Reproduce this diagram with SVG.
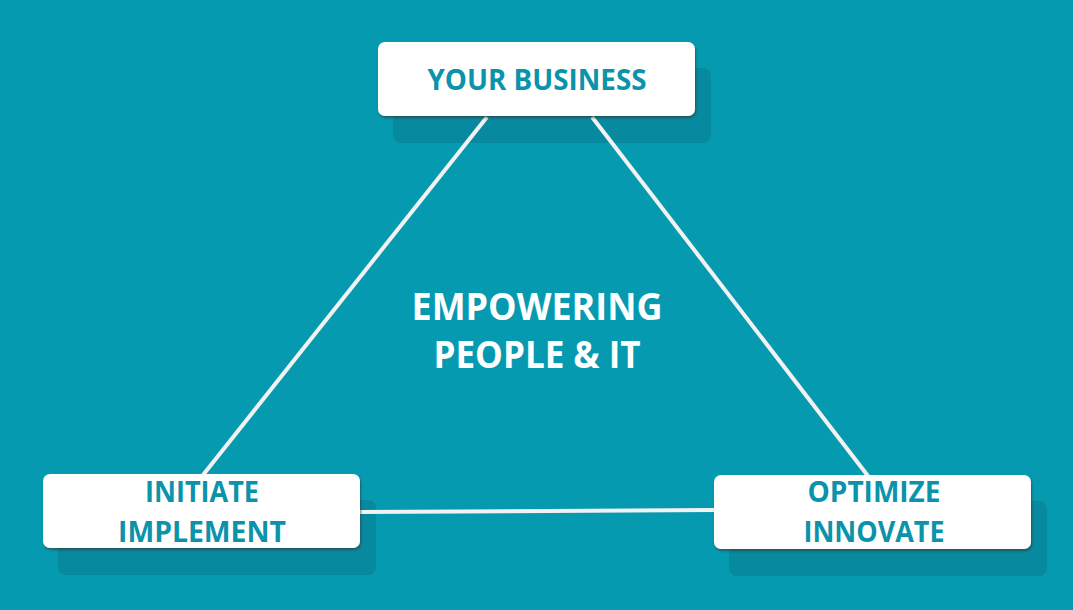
<svg xmlns="http://www.w3.org/2000/svg" width="1073" height="610" viewBox="0 0 1073 610">
<defs>
<style>
.shadow{fill:#078a9f}
.box{fill:#ffffff;filter:url(#ds)}
.lbl{font-family:"Open Sans","Liberation Sans",sans-serif;font-weight:bold;font-size:28px;fill:#0a93aa;text-anchor:middle}
.ctr{font-family:"Open Sans","Liberation Sans",sans-serif;font-weight:bold;font-size:38px;fill:#ffffff;text-anchor:middle}
.conn{stroke:#f2f2f2;stroke-width:4;fill:none}
</style>
<filter id="ds" x="-5%" y="-10%" width="110%" height="130%">
<feDropShadow dx="1" dy="2" stdDeviation="1.2" flood-color="#333" flood-opacity="0.6"/>
</filter>
</defs>
<rect x="0" y="0" width="1073" height="610" fill="#069ab1"/>
<g id="shadows">
<rect class="shadow" x="393" y="68" width="318" height="75" rx="8"/>
<rect class="shadow" x="58" y="500" width="318" height="75" rx="8"/>
<rect class="shadow" x="729" y="501" width="318" height="75" rx="8"/>
</g>
<g id="connectors">
<line class="conn" x1="487" y1="117" x2="203" y2="475"/>
<line class="conn" x1="592" y1="117" x2="868" y2="476"/>
<line class="conn" x1="360" y1="512" x2="714" y2="510"/>
</g>
<g id="node-business">
<rect class="box" x="378" y="42" width="317" height="74" rx="7"/>
<text class="lbl" x="537" y="90" textLength="219" lengthAdjust="spacingAndGlyphs">YOUR BUSINESS</text>
</g>
<g id="node-initiate">
<rect class="box" x="43" y="474" width="317" height="74" rx="7"/>
<text class="lbl" x="202" y="502" textLength="114" lengthAdjust="spacingAndGlyphs">INITIATE</text>
<text class="lbl" x="202" y="542" textLength="168" lengthAdjust="spacingAndGlyphs">IMPLEMENT</text>
</g>
<g id="node-optimize">
<rect class="box" x="714" y="475" width="317" height="74" rx="7"/>
<text class="lbl" x="874" y="502" textLength="133" lengthAdjust="spacingAndGlyphs">OPTIMIZE</text>
<text class="lbl" x="874" y="542" textLength="141" lengthAdjust="spacingAndGlyphs">INNOVATE</text>
</g>
<g id="center-label">
<text class="ctr" x="537" y="320" textLength="251" lengthAdjust="spacingAndGlyphs">EMPOWERING</text>
<text class="ctr" x="537" y="368" textLength="207" lengthAdjust="spacingAndGlyphs">PEOPLE &amp; IT</text>
</g>
</svg>
